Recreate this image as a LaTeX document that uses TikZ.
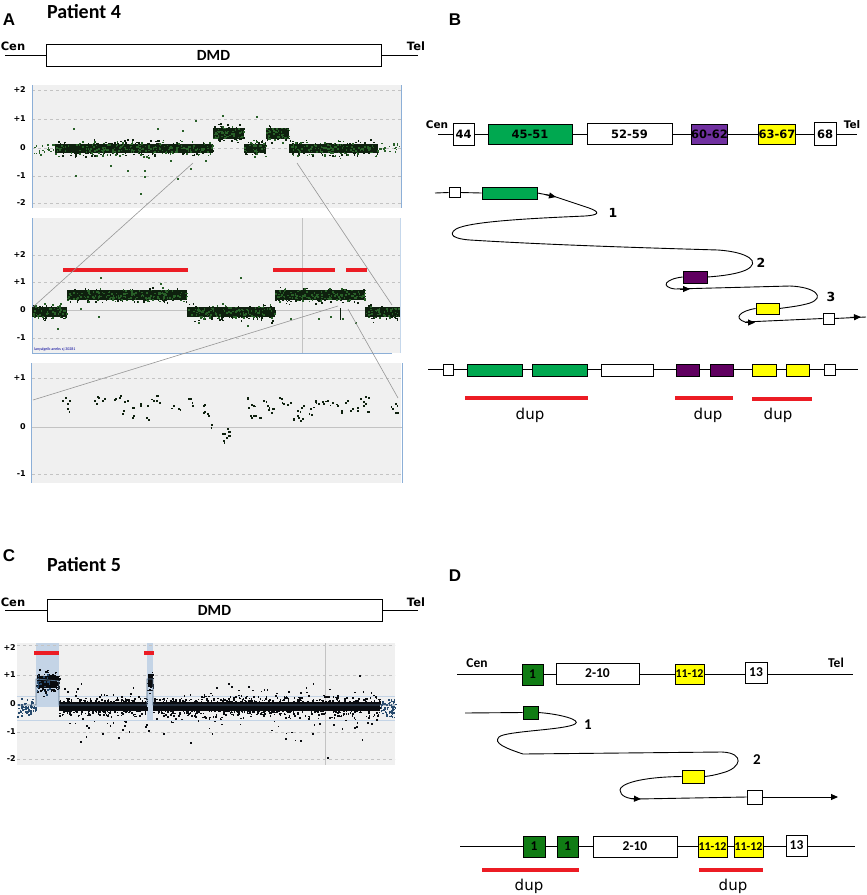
\documentclass[tikz,border=0pt]{standalone}
\usepackage{fontspec}
\setmainfont{Carlito}
\newfontfamily\arialf{Liberation Sans}
\newfontfamily\dvs{DejaVu Sans}
\usetikzlibrary{arrows.meta}
\definecolor{exgreen}{RGB}{0,168,80}
\definecolor{exviolet}{RGB}{112,48,160}
\definecolor{expurple}{RGB}{96,0,96}
\definecolor{exyellow}{RGB}{255,255,0}
\definecolor{dkgreen}{RGB}{16,124,20}
\definecolor{plotbg}{RGB}{240,240,240}
\definecolor{axisblue}{RGB}{140,175,215}
\definecolor{gridc}{RGB}{195,195,195}
\definecolor{dupred}{RGB}{236,28,36}
\definecolor{corea}{RGB}{14,32,14}
\definecolor{pta}{RGB}{40,96,40}
\definecolor{ptc}{RGB}{10,12,16}
\definecolor{ptcb}{RGB}{40,75,110}
\definecolor{shadeb}{RGB}{196,212,230}
\definecolor{connc}{RGB}{150,150,150}
\newcommand{\ptband}[6]{%
  \foreach \k in {1,...,#5}{%
    \pgfmathsetmacro{\px}{#1+rnd*(#2-#1)}%
    \pgfmathsetmacro{\py}{#3+(rnd+rnd+rnd-1.5)*#4*0.8}%
    \fill[#6] (\px,\py) rectangle ++(1.6,1.6);}}
\begin{document}
\begin{tikzpicture}[x=1pt,y=-1pt,
  panellbl/.style={font=\arialf\bfseries\fontsize{17}{17}\selectfont},
  ttl/.style={font=\bfseries\fontsize{20}{20}\selectfont},
  endlbl/.style={font=\dvs\bfseries\fontsize{11.5}{11.5}\selectfont},
  endlblB/.style={font=\dvs\bfseries\fontsize{10.5}{10.5}\selectfont},
  endlblD/.style={font=\bfseries\fontsize{13.5}{13.5}\selectfont},
  dmd/.style={draw, line width=0.9, inner sep=0, minimum height=22, minimum width=335, font=\bfseries\fontsize{15.5}{15.5}\selectfont},
  gl/.style={line width=0.9},
  exbox/.style 2 args={draw, line width=0.8, inner sep=0, minimum width=#1, minimum height=#2, font=\dvs\bfseries\fontsize{11.5}{11.5}\selectfont},
  dfont/.style={font=\bfseries\fontsize{13.5}{13.5}\selectfont},
  dfonts/.style={font=\bfseries\fontsize{12}{12}\selectfont},
  ax/.style={font=\dvs\bfseries\fontsize{8}{8}\selectfont, anchor=east, inner sep=0},
  dupl/.style={font=\dvs\fontsize{15}{15}\selectfont},
  num/.style={font=\dvs\bfseries\fontsize{12.5}{12.5}\selectfont},
  numD/.style={font=\bfseries\fontsize{15}{15}\selectfont},
  redbar/.style={draw=dupred, line width=3.5},
  grid/.style={draw=gridc, dashed, line width=0.4},
  axl/.style={draw=axisblue, line width=0.8},
  conn/.style={draw=connc, line width=0.6},
  tip/.style={-{Triangle[length=7pt,width=6pt]}, line width=0.9},
]
\useasboundingbox (0,0) rectangle (867,895);
\pgfmathsetseed{7}

% ================= Panel A =================
\node[panellbl] (lA) at (9,20) {A};
\node[ttl] (pt4) at (84,12) {Patient 4};
\node[endlbl] (cenA) at (13,46) {Cen};
\node[endlbl] (telA) at (416,46) {Tel};
\node[dmd] (dmdA) at (213.5,55) {DMD};
\coordinate (cenAl) at (5,55);
\coordinate (telAl) at (418,55);
\draw[gl] (cenAl) -- (dmdA.west);
\draw[gl] (dmdA.east) -- (telAl);

% ---- plot A1
\fill[plotbg] (32,85) rectangle (401,208);
\foreach \yy in {90,119,148,176,203} \draw[grid] (32,\yy) -- (401,\yy);
\draw[axl] (32,85) -- (32,208);
\draw[axl] (401,85) -- (401,208);
\node[ax] (a1p2) at (26,90) {+2};
\node[ax] (a1p1) at (26,119) {+1};
\node[ax] (a1z) at (26,148) {0};
\node[ax] (a1m1) at (26,176) {-1};
\node[ax] (a1m2) at (26,203) {-2};
\ptband{33}{55}{148}{6}{18}{pta}
\fill[corea] (55,144) rectangle (213,153);
\ptband{55}{213}{148}{9}{330}{corea}
\ptband{55}{213}{148}{9}{200}{pta}
\fill[corea] (213,128) rectangle (244,139);
\ptband{213}{244}{133}{10}{80}{corea}
\ptband{213}{244}{133}{10}{50}{pta}
\fill[corea] (244,144) rectangle (266,153);
\ptband{244}{266}{148}{9}{50}{corea}
\ptband{244}{266}{148}{9}{30}{pta}
\fill[corea] (266,128) rectangle (289,139);
\ptband{266}{289}{133}{9}{60}{corea}
\ptband{266}{289}{133}{9}{40}{pta}
\fill[corea] (289,144) rectangle (378,153);
\ptband{289}{378}{148}{9}{200}{corea}
\ptband{289}{378}{148}{9}{120}{pta}
\ptband{378}{400}{148}{6}{18}{pta}
\foreach \x/\y in {73/128,75/175,127/170,140/193,144/170,144/176,157/128,182/130,195/120,177/178,256/116,222/115,170/160,205/160,110/165,190/168}
  \fill[pta] (\x,\y) rectangle ++(1.8,1.8);

% ---- plot A2
\fill[plotbg] (32,218) rectangle (400,353);
\foreach \yy in {255,282,338} \draw[grid] (32,\yy) -- (400,\yy);
\draw[draw=gridc, line width=0.6] (32,310) -- (400,310);
\draw[draw=gridc, line width=0.9] (302,218) -- (302,353);
\draw[axl] (32,218) -- (32,353);
\draw[axl] (32,353) -- (392,353);
\draw[draw=axisblue!50, line width=0.6] (400,218) -- (400,353);
\node[ax] (a2p2) at (26,255) {+2};
\node[ax] (a2p1) at (26,282) {+1};
\node[ax] (a2z) at (26,310) {0};
\node[ax] (a2m1) at (26,338) {-1};
\fill[corea] (32,307) rectangle (67,317);
\ptband{32}{67}{312}{9}{70}{corea}
\ptband{32}{67}{312}{9}{45}{pta}
\fill[corea] (67,290) rectangle (187,300);
\ptband{67}{187}{295}{8}{260}{corea}
\ptband{67}{187}{295}{8}{160}{pta}
\fill[corea] (187,307) rectangle (275,317);
\ptband{187}{275}{312}{9}{190}{corea}
\ptband{187}{275}{312}{9}{120}{pta}
\fill[corea] (275,290) rectangle (365,300);
\ptband{275}{365}{295}{8}{190}{corea}
\ptband{275}{365}{295}{8}{120}{pta}
\fill[corea] (365,307) rectangle (400,317);
\ptband{365}{399}{312}{9}{70}{corea}
\ptband{365}{399}{312}{9}{45}{pta}
\foreach \x/\y in {100/277,57/328,240/277,247/325,342/318,80/308,98/316,160/283,330/316,318/318,290/318,355/322}
  \fill[pta] (\x,\y) rectangle ++(1.8,1.8);
\draw[draw=corea, line width=0.8] (340,308) -- (340,320);
\draw[redbar] (63,270) -- (188,270);
\draw[redbar] (273,270) -- (335,270);
\draw[redbar] (346,270) -- (367,270);
\node[font=\fontsize{4}{4}\selectfont, text=blue!60!black, anchor=west, inner sep=0] (wm) at (34,349) {lanyalgeib anebs sj 30281};

% ---- plot A3
\fill[plotbg] (32,363) rectangle (401,483);
\draw[grid] (32,378) -- (401,378);
\draw[grid] (32,474) -- (401,474);
\draw[draw=gridc, line width=0.8] (32,427) -- (403,427);
\draw[axl] (31,363) -- (31,483);
\draw[axl] (402,363) -- (402,483);
\node[ax] (a3p1) at (26,378) {+1};
\node[ax] (a3z) at (26,427) {0};
\node[ax] (a3m1) at (26,474) {-1};
\foreach \x/\y in {65/397,67/403,67/408,94/400,98/397,102/400,115/398,119/397,122/413,127/400,133/407,133/415,140/405,146/417,147/405,153/400,157/395,159/402,173/405,178/408,188/398,192/405,203/405,203/412,208/415,211/424,222/433,223/440,227/428,228/435,226/437,229/431,247/398,248/407,253/405,250/415,255/415,259/417,263/400,267/405,272/408,271/412,279/397,283/403,290/402,293/418,297/410,297/415,302/418,303/405,310/408,311/414,315/400,318/403,323/403,327/400,332/402,337/405,341/412,345/402,352/408,357/410,360/398,363/405,368/411,368/397,392/408,395/403,395/412}{
  \fill[corea] (\x,\y) rectangle ++(1.8,1.8);
  \pgfmathsetmacro{\jx}{\x+rand*3}\pgfmathsetmacro{\jy}{\y+rand*3}
  \fill[corea] (\jx,\jy) rectangle ++(1.8,1.8);}

% ---- connectors between plots
\coordinate (c1a) at (193,163); \coordinate (c1b) at (33,307);
\coordinate (c2a) at (297,163); \coordinate (c2b) at (392,305);
\coordinate (c3a) at (338,306); \coordinate (c3b) at (33,400);
\coordinate (c4a) at (348,309); \coordinate (c4b) at (398,398);
\draw[conn] (c1a) -- (c1b);
\draw[conn] (c2a) -- (c2b);
\draw[conn] (c3a) -- (c3b);
\draw[conn] (c4a) -- (c4b);

% ================= Panel B =================
\node[panellbl] (lB) at (455,20) {B};
\node[endlblB] (cenB) at (437,125) {Cen};
\node[endlblB] (telB) at (852,125) {Tel};
\coordinate (bL) at (438,134); \coordinate (bR) at (857,134);
\draw[gl] (bL) -- (bR);
\node[exbox={21}{22}, fill=white] (b44) at (463.5,134) {44};
\node[exbox={84}{20}, fill=exgreen] (b45) at (530,134) {45-51};
\node[exbox={85}{21}, fill=white] (b52) at (629.5,134) {52-59};
\node[exbox={33}{20}, fill=exviolet] (b60) at (709.5,134) {60-62};
\node[exbox={36}{20}, fill=exyellow] (b63) at (777,134) {63-67};
\node[exbox={22}{23}, fill=white] (b68) at (825,134) {68};

% loop
\coordinate (lpS) at (435,193);
\node[exbox={11}{10}, fill=white] (lw1) at (454.5,192.5) {};
\node[exbox={55}{12}, fill=exgreen] (lg1) at (509.5,193) {};
\node[exbox={24}{12}, fill=expurple] (lp1) at (695,277) {};
\node[exbox={23}{11}, fill=exyellow] (ly1) at (767.5,308.5) {};
\node[exbox={11}{11}, fill=white] (lw2) at (828.5,318.5) {};
\coordinate (lpE) at (866,317);
\draw[gl] (lpS) -- (lw1.west);
\draw[gl] (lw1.east) -- (lg1.west);
\draw[gl] (lg1.east) -- (553,196) -- (589,208)
  .. controls (600,212) and (600,215) .. (585,216)
  .. controls (540,218) and (470,221) .. (456,229)
  .. controls (447,235) and (455,239) .. (470,240)
  .. controls (550,245) and (650,248) .. (718,250)
  .. controls (748,252) and (762,262) .. (746,270)
  .. controls (737,274) and (722,276) .. (lp1.east);
\draw[gl] (lp1.west) .. controls (665,279) and (660,287) .. (675,289)
  -- (790,286) .. controls (815,287) and (826,297) .. (810,303)
  .. controls (800,306) and (790,307) .. (ly1.east);
\draw[gl] (ly1.west) .. controls (740,311) and (733,318) .. (745,322)
  -- (lw2.west);
\draw[gl] (lw2.east) -- (lpE);
\draw[tip] (545,194.5) -- (556,197);
\draw[tip] (680,289) -- (690,289);
\draw[tip] (745,322.5) -- (755,322.5);
\draw[tip] (850,317.3) -- (861,317);
\node[num] (n1) at (613,213) {1};
\node[num] (n2) at (761,263) {2};
\node[num] (n3) at (831,297) {3};

% bottom row
\coordinate (rL) at (428,369); \coordinate (rR) at (858,369);
\draw[gl] (rL) -- (rR);
\node[exbox={10}{11}, fill=white] (r1) at (448,369.5) {};
\node[exbox={55}{12}, fill=exgreen] (r2) at (494.5,370) {};
\node[exbox={55}{12}, fill=exgreen] (r3) at (559.5,370) {};
\node[exbox={52}{12}, fill=white] (r4) at (627,370) {};
\node[exbox={23}{12}, fill=expurple] (r5) at (687.5,370) {};
\node[exbox={23}{12}, fill=expurple] (r6) at (721.5,370) {};
\node[exbox={24}{12}, fill=exyellow] (r7) at (764,370) {};
\node[exbox={23}{12}, fill=exyellow] (r8) at (797.5,370) {};
\node[exbox={11}{11}, fill=white] (r9) at (829.5,369.5) {};
\draw[redbar] (465,398) -- (588,398);
\draw[redbar] (675,398) -- (733,398);
\draw[redbar] (752,399) -- (812,399);
\node[dupl] (dB1) at (530,415) {dup};
\node[dupl] (dB2) at (708,415) {dup};
\node[dupl] (dB3) at (778,415) {dup};

% ================= Panel C =================
\node[panellbl] (lC) at (9,556) {C};
\node[ttl] (pt5) at (84,565) {Patient 5};
\node[endlbl] (cenC) at (13,602) {Cen};
\node[endlbl] (telC) at (416,602) {Tel};
\node[dmd] (dmdC) at (214.5,610) {DMD};
\coordinate (cenCl) at (5,610);
\coordinate (telCl) at (418,610);
\draw[gl] (cenCl) -- (dmdC.west);
\draw[gl] (dmdC.east) -- (telCl);

\fill[plotbg] (17,643) rectangle (395,765);
\fill[shadeb] (36,643) rectangle (59,707);
\fill[shadeb] (147,643) rectangle (153,720);
\foreach \yy in {645,675,732,759} \draw[grid] (17,\yy) -- (395,\yy);
\draw[draw=shadeb, line width=0.8] (17,696) -- (395,696);
\draw[draw=shadeb, line width=0.8] (17,720) -- (395,720);
\draw[draw=gridc, line width=0.9] (325,643) -- (325,765);
\node[ax] (cp2) at (16,648) {+2};
\node[ax] (cp1) at (16,675) {+1};
\node[ax] (cz) at (16,704) {0};
\node[ax] (cm1) at (16,732) {-1};
\node[ax] (cm2) at (16,759) {-2};
\ptband{17}{36}{707}{10}{70}{ptcb}
\fill[ptc] (38,676) rectangle (57,688);
\ptband{36}{59}{682}{13}{150}{ptc}
\ptband{36}{50}{682}{12}{25}{ptcb}
\fill[ptc] (59,702) rectangle (147,711);
\ptband{59}{147}{706}{11}{380}{ptc}
\fill[ptc] (147.5,674) rectangle (152.5,687);
\ptband{147}{153}{680}{13}{30}{ptc}
\fill[ptc] (153,702) rectangle (380,711);
\ptband{153}{380}{706}{11}{900}{ptc}
\ptband{59}{380}{708}{24}{220}{ptc}
\ptband{59}{380}{712}{36}{70}{ptc}
\ptband{380}{395}{707}{10}{55}{ptcb}
\foreach \x/\y in {359/675,228/683,327/757,80/741,163/733,118/737,300/740,285/738,190/742,102/733}
  \fill[ptc] (\x,\y) rectangle ++(1.8,1.8);
\draw[draw=ptcb!80!white, line width=0.8] (17,705) -- (36,705) -- (36,679) -- (59,681) -- (59,705) -- (147,705) -- (147,679) -- (153,679) -- (153,705) -- (395,705);
\draw[redbar] (34,653) -- (59,653);
\draw[redbar] (144,653) -- (154,653);

% ================= Panel D =================
\node[panellbl] (lD) at (455,576) {D};
\node[endlblD] (cenD) at (477,663) {Cen};
\node[endlblD] (telD) at (836,663) {Tel};
\coordinate (dL) at (457,674); \coordinate (dR) at (853,674);
\draw[gl] (dL) -- (dR);
\node[exbox={21}{21}, fill=dkgreen, dfont] (d1) at (532.5,674.5) {1};
\node[exbox={83}{21}, fill=white, dfont] (d2) at (597.5,673.5) {2-10};
\node[exbox={29}{20}, fill=exyellow, dfonts] (d11) at (689.5,674) {11-12};
\node[exbox={22}{21}, fill=white, dfont] (d13) at (756,672.5) {13};

% loop
\coordinate (dlS) at (465,713);
\node[exbox={15}{13}, fill=dkgreen] (dg) at (530.5,712.5) {};
\node[exbox={22}{13}, fill=exyellow] (dy) at (693,776.5) {};
\node[exbox={15}{14}, fill=white] (dw) at (754.5,797) {};
\coordinate (dlE) at (838,797);
\draw[gl] (dlS) -- (dg.west);
\draw[gl] (dg.east) .. controls (560,714) and (582,720) .. (575,724)
  .. controls (565,730) and (505,731) .. (499,737)
  .. controls (493,743) and (505,748) .. (523,754)
  -- (722,752) .. controls (745,753) and (742,768) .. (722,773)
  .. controls (715,775) and (710,776) .. (dy.east);
\draw[gl] (dy.west) .. controls (640,777) and (620,784) .. (620,790)
  .. controls (620,796) and (628,799) .. (637,799) -- (dw.west);
\draw[gl, -{Triangle[length=7pt,width=6pt]}] (dw.east) -- (dlE);
\draw[tip] (630,798.5) -- (641,799);
\node[numD] (dn1) at (588,725) {1};
\node[numD] (dn2) at (757,760) {2};

% bottom row
\coordinate (eL) at (460,846); \coordinate (eR) at (855,846);
\draw[gl] (eL) -- (eR);
\node[exbox={22}{21}, fill=dkgreen, dfont] (e1) at (534,846.5) {1};
\node[exbox={21}{21}, fill=dkgreen, dfont] (e2) at (567.5,846.5) {1};
\node[exbox={84}{21}, fill=white, dfont] (e3) at (635,846.5) {2-10};
\node[exbox={29}{21}, fill=exyellow, dfonts] (e4) at (712.5,846.5) {11-12};
\node[exbox={29}{21}, fill=exyellow, dfonts] (e5) at (748.5,846.5) {11-12};
\node[exbox={21}{21}, fill=white, dfont] (e6) at (796.5,845.5) {13};
\draw[redbar] (482,870) -- (579,870);
\draw[redbar] (699,870) -- (763,870);
\node[dupl] (dD1) at (529,886) {dup};
\node[dupl] (dD2) at (733,886) {dup};
\end{tikzpicture}
\end{document}
